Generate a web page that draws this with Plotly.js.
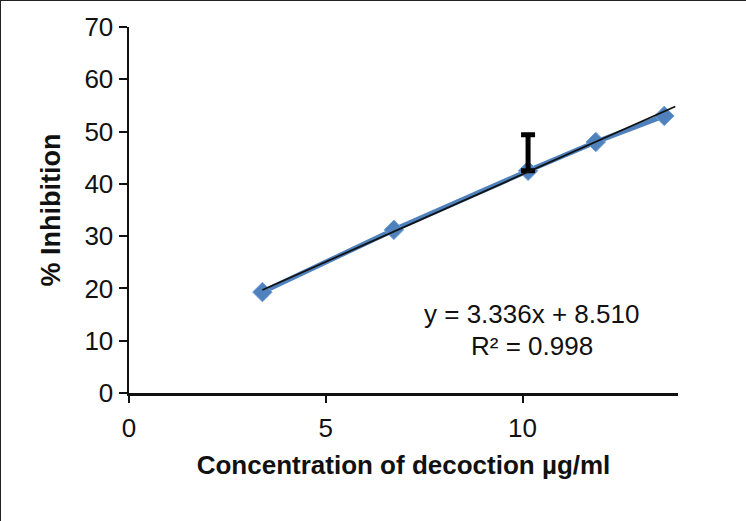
<!DOCTYPE html>
<html>
<head>
<meta charset="utf-8">
<script src="https://cdn.plot.ly/plotly-3.0.1.min.js"></script>
<style>
  body { margin: 0; background: #fff; }
  #chart { width: 746px; height: 521px; box-sizing: border-box; border: 1.5px solid #222; }
</style>
</head>
<body>
<div id="chart"></div>
<script>
// concentration vs % inhibition
let conc = [3.39, 6.73, 10.14, 11.86, 13.6];
let inhibition = [19.3, 31.2, 42.5, 48.0, 53.0];

// only the third point has an error bar (upward)
let errConc = [10.14];
let errVal = [42.5];
let errUp = [6.9];

// linear trendline endpoints
let trendX = [3.39, 13.88];
let trendY = [19.7, 54.8];

let xTicks = [0, 5, 10];
let yTicks = [0, 10, 20, 30, 40, 50, 60, 70];

let font = "Liberation Sans, Arial, sans-serif";

let series = {
    x: conc,
    y: inhibition,
    type: "scatter",
    mode: "lines+markers",
    line: {color: "#4F81BD", width: 5},
    marker: {symbol: "diamond", size: 15, color: "#4F81BD", line: {color: "#6E9FD8", width: 1}}
};

let trend = {
    x: trendX,
    y: trendY,
    type: "scatter",
    mode: "lines",
    line: {color: "#111", width: 1.8}
};

let errTrace = {
    x: errConc,
    y: errVal,
    type: "scatter",
    mode: "markers",
    marker: {size: 1, color: "rgba(0,0,0,0)"},
    error_y: {type: "data", symmetric: false, array: errUp, arrayminus: [0], color: "#000", thickness: 5, width: 7}
};

let layout = {
    width: 746,
    height: 521,
    margin: {l: 128, r: 69, t: 26, b: 128.5},
    showlegend: false,
    paper_bgcolor: "#fff",
    plot_bgcolor: "#fff",
    font: {family: font, color: "#111"},
    xaxis: {
        range: [0, 13.95],
        tickvals: xTicks,
        ticks: "outside",
        ticklen: 7,
        tickwidth: 2,
        tickcolor: "#111",
        showline: true,
        linecolor: "#111",
        linewidth: 3,
        showgrid: false,
        zeroline: false,
        tickfont: {size: 26, family: font},
        ticklabelstandoff: 3,
        title: {text: "<b>Concentration of decoction µg/ml</b>", font: {size: 26, family: font}, standoff: 14}
    },
    yaxis: {
        range: [0, 70],
        tickvals: yTicks,
        ticks: "outside",
        ticklen: 8,
        tickwidth: 2,
        tickcolor: "#111",
        showline: true,
        linecolor: "#111",
        linewidth: 2.5,
        showgrid: false,
        zeroline: false,
        tickfont: {size: 26, family: font},
        title: {text: "<b>% Inhibition</b>", font: {size: 27, family: font}, standoff: 16}
    },
    annotations: [
        {xref: "paper", yref: "paper", xanchor: "center", yanchor: "middle",
         x: (530 - 128) / 549, y: (392.5 - 313) / 366.5,
         text: "y = 3.336x + 8.510", showarrow: false, font: {size: 26, family: font, color: "#111"}},
        {xref: "paper", yref: "paper", xanchor: "center", yanchor: "middle",
         x: (531 - 128) / 549, y: (392.5 - 345) / 366.5,
         text: "R² = 0.998", showarrow: false, font: {size: 26, family: font, color: "#111"}}
    ]
};

Plotly.newPlot("chart", [series, errTrace, trend], layout, {displayModeBar: false, staticPlot: true});
</script>
</body>
</html>
